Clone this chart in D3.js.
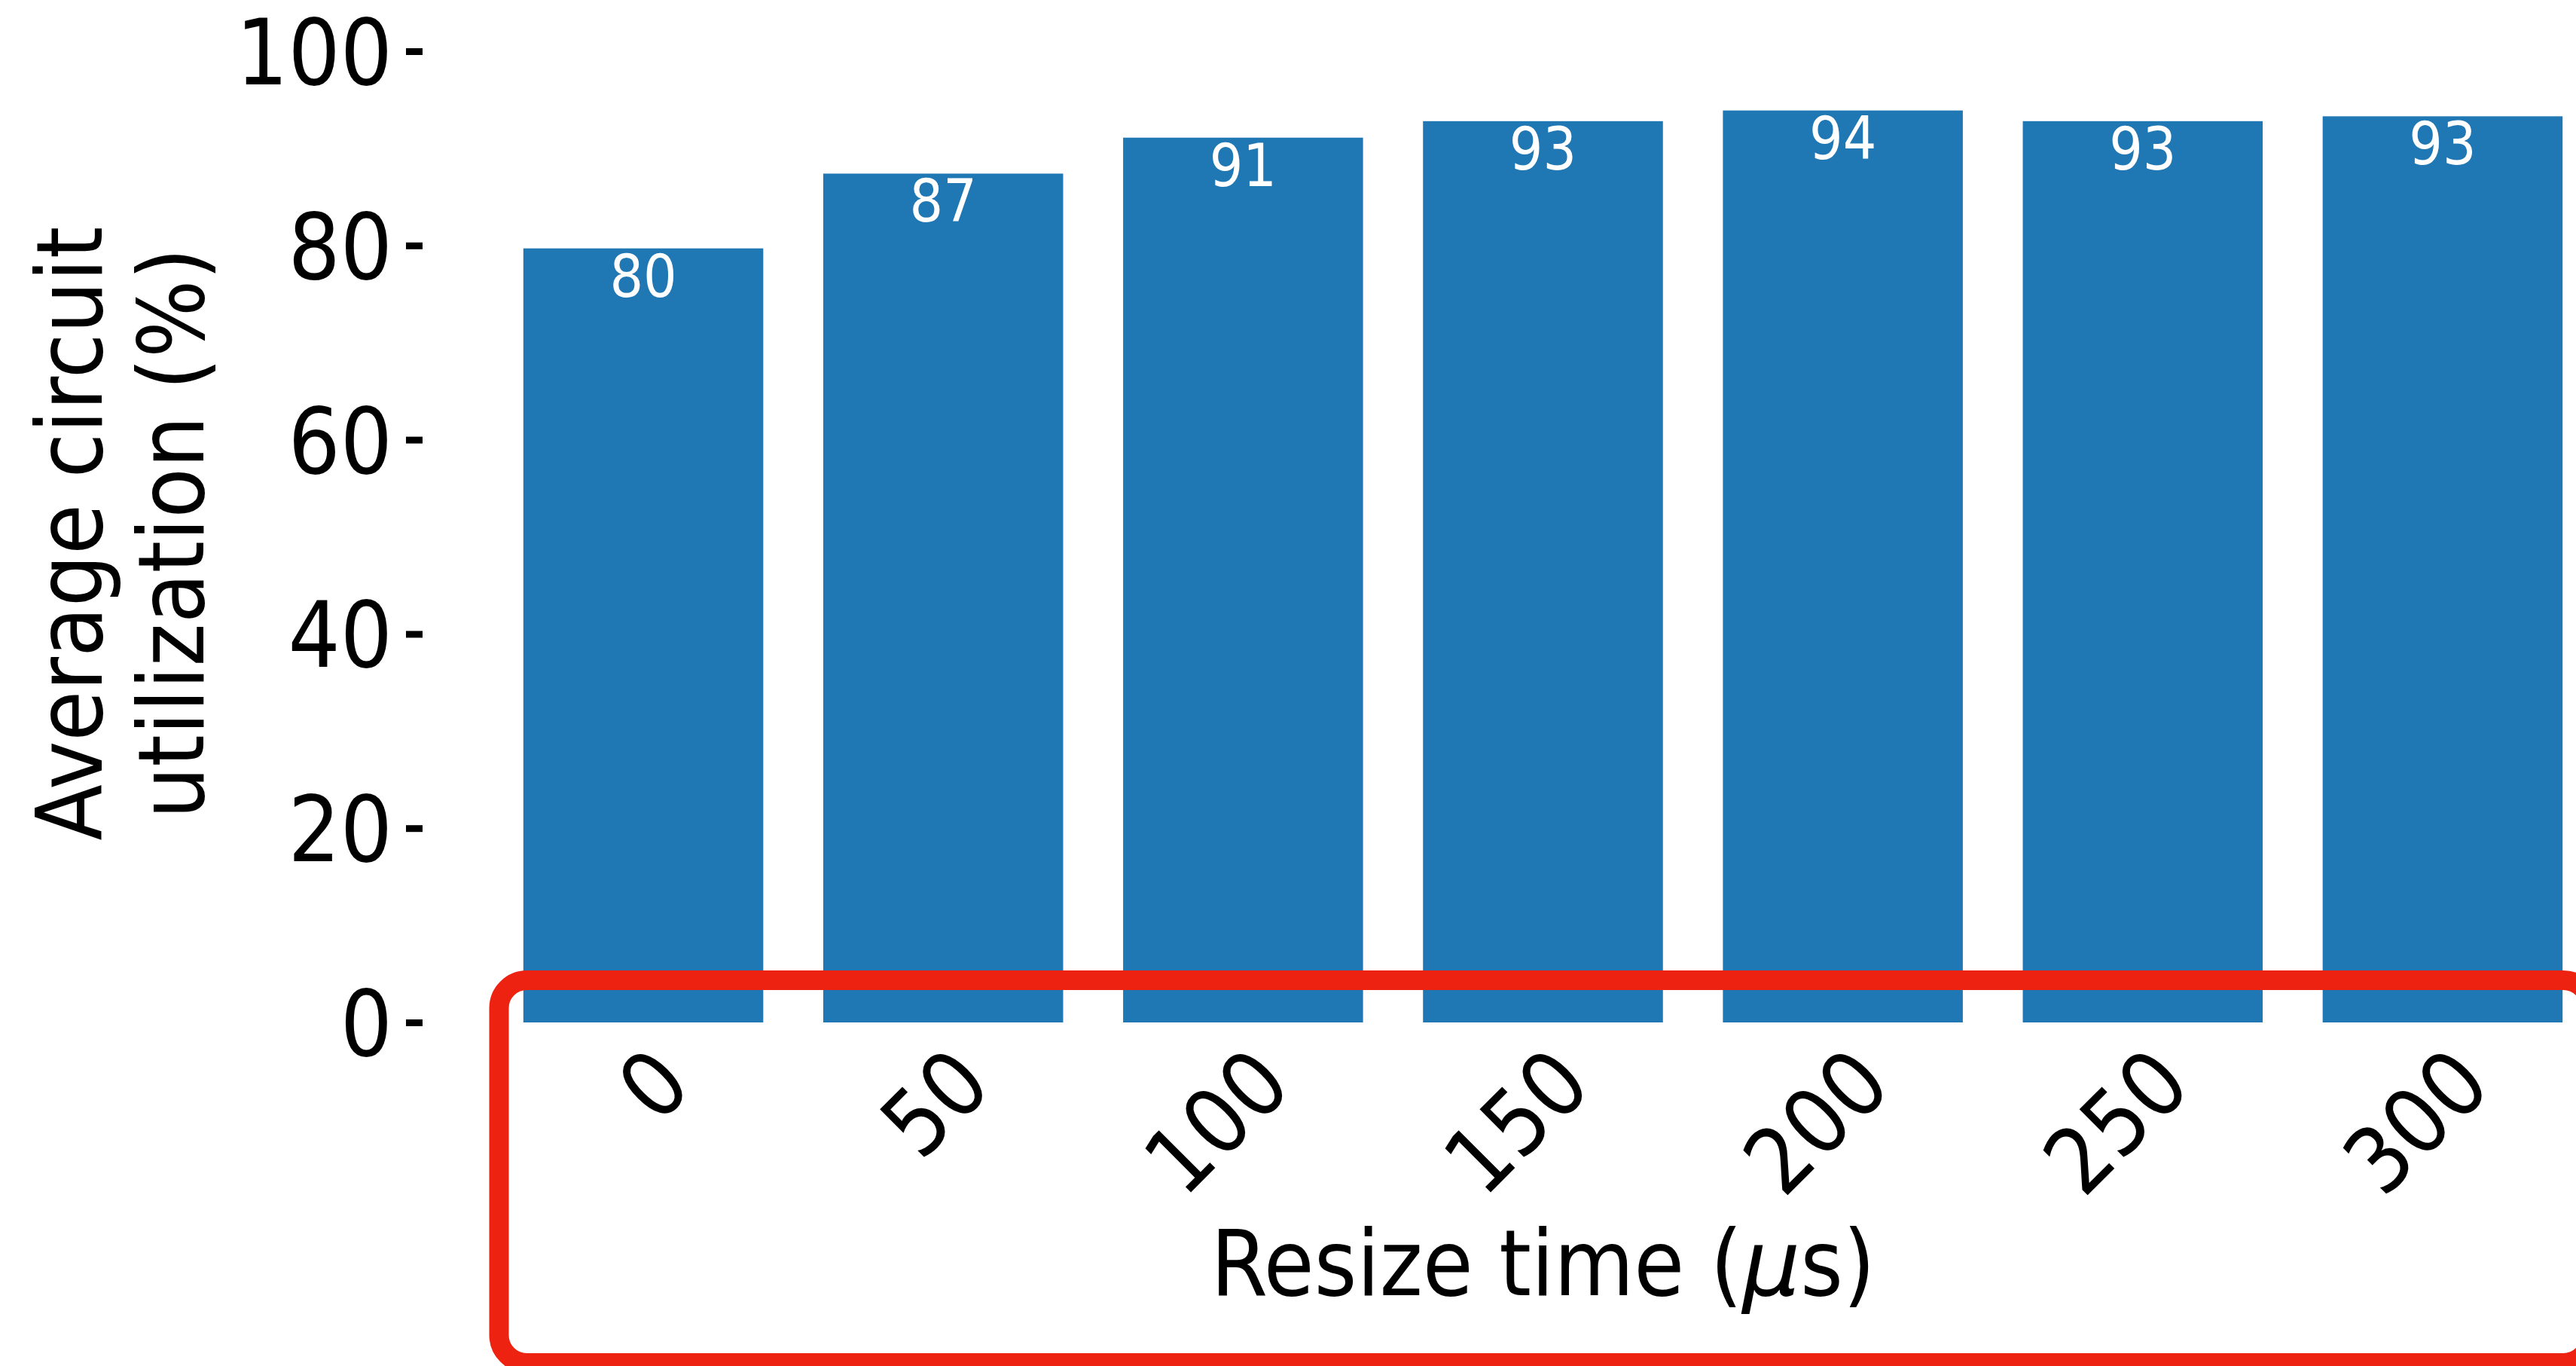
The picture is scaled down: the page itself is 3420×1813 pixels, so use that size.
<!DOCTYPE html>
<html>
<head>
<meta charset="utf-8">
<script src="https://cdn.jsdelivr.net/npm/d3@7"></script>
<style>
  html, body { margin: 0; padding: 0; background: #fff; }
  svg { display: block; }
  text { font-family: 'DejaVu Sans Condensed', 'DejaVu Sans', sans-serif; font-stretch: condensed; }
</style>
</head>
<body>
<svg id="chart" width="3420" height="1813"></svg>
<script>
// data
const resizeTimes = ['0', '50', '100', '150', '200', '250', '300'];
const utilization = [79.7, 87.4, 91.1, 92.8, 93.9, 92.8, 93.3];
const yTicks = [0, 20, 40, 60, 80, 100];
const yLabelLines = ['Average circuit', 'utilization (%)'];

const barColor = '#1f77b4';
const boxColor = '#ee2211';
const bigFont = 121;

const svg = d3.select('#chart');

const x = d3
  .scaleBand()
  .domain(resizeTimes)
  .range([655, 3442])
  .paddingInner(0.2)
  .paddingOuter(0.1);

const y = d3.scaleLinear().domain([0, 100]).range([1357, 68]);

function drawBars({ svg, x, y }) {
  const data = resizeTimes.map((t, i) => ({ t, v: utilization[i] }));
  const bars = svg.append('g').attr('class', 'bars');

  bars
    .selectAll('rect')
    .data(data)
    .join('rect')
    .attr('x', (d) => x(d.t))
    .attr('y', (d) => y(d.v))
    .attr('width', x.bandwidth())
    .attr('height', (d) => y(0) - y(d.v))
    .attr('fill', barColor);

  // value labels sit just inside the top of each bar
  bars
    .selectAll('text')
    .data(data)
    .join('text')
    .attr('x', (d) => x(d.t) + x.bandwidth() / 2)
    .attr('y', (d) => y(d.v) + 64)
    .attr('text-anchor', 'middle')
    .attr('fill', '#fff')
    .attr('font-size', 78)
    .text((d) => d3.format('.0f')(d.v));
}

function drawAxes({ svg, x, y }) {
  const yAxis = svg
    .append('g')
    .attr('transform', 'translate(561,0)')
    .call(d3.axisLeft(y).tickValues(yTicks).tickSize(22).tickPadding(18));
  yAxis.select('.domain').remove();
  yAxis.selectAll('line').attr('stroke', '#000').attr('stroke-width', 9);
  yAxis
    .selectAll('text')
    .attr('font-size', bigFont)
    .attr('fill', '#000')
    .attr('dy', '0.36em');

  const xAxis = svg
    .append('g')
    .attr('transform', `translate(0,${y(0)})`)
    .call(d3.axisBottom(x).tickSize(0));
  xAxis.select('.domain').remove();
  xAxis
    .selectAll('text')
    .attr('font-size', bigFont)
    .attr('fill', '#000')
    .attr('text-anchor', 'end')
    .attr('x', 0)
    .attr('y', 0)
    .attr('dy', 0)
    .attr('transform', 'translate(68,88) rotate(-45)');

  // axis titles
  const xCenter = (x.range()[0] + x.range()[1]) / 2;
  const xTitle = svg
    .append('text')
    .attr('x', xCenter)
    .attr('y', 1719)
    .attr('text-anchor', 'middle')
    .attr('font-size', bigFont)
    .attr('fill', '#000');
  xTitle.append('tspan').text('Resize time (');
  xTitle
    .append('tspan')
    .attr('font-family', 'DejaVu Sans')
    .attr('font-style', 'italic')
    .style('font-stretch', 'normal')
    .text('\u03bc');
  xTitle.append('tspan').text('s)');

  const yTitle = svg
    .append('g')
    .attr('transform', 'translate(0,708) rotate(-90)');
  yLabelLines.forEach((line, i) => {
    yTitle
      .append('text')
      .attr('x', 0)
      .attr('y', 135 + i * 135)
      .attr('text-anchor', 'middle')
      .attr('font-size', bigFont)
      .attr('fill', '#000')
      .text(line);
  });
}

function drawHighlight({ svg }) {
  // red rounded box drawn over the x axis area
  svg
    .append('rect')
    .attr('x', 662.5)
    .attr('y', 1301)
    .attr('width', 3440 - 662.5)
    .attr('height', 1809 - 1301)
    .attr('rx', 37)
    .attr('ry', 37)
    .attr('fill', 'none')
    .attr('stroke', boxColor)
    .attr('stroke-width', 26);
}

drawBars({ svg, x, y });
drawAxes({ svg, x, y });
drawHighlight({ svg });
</script>
</body>
</html>
